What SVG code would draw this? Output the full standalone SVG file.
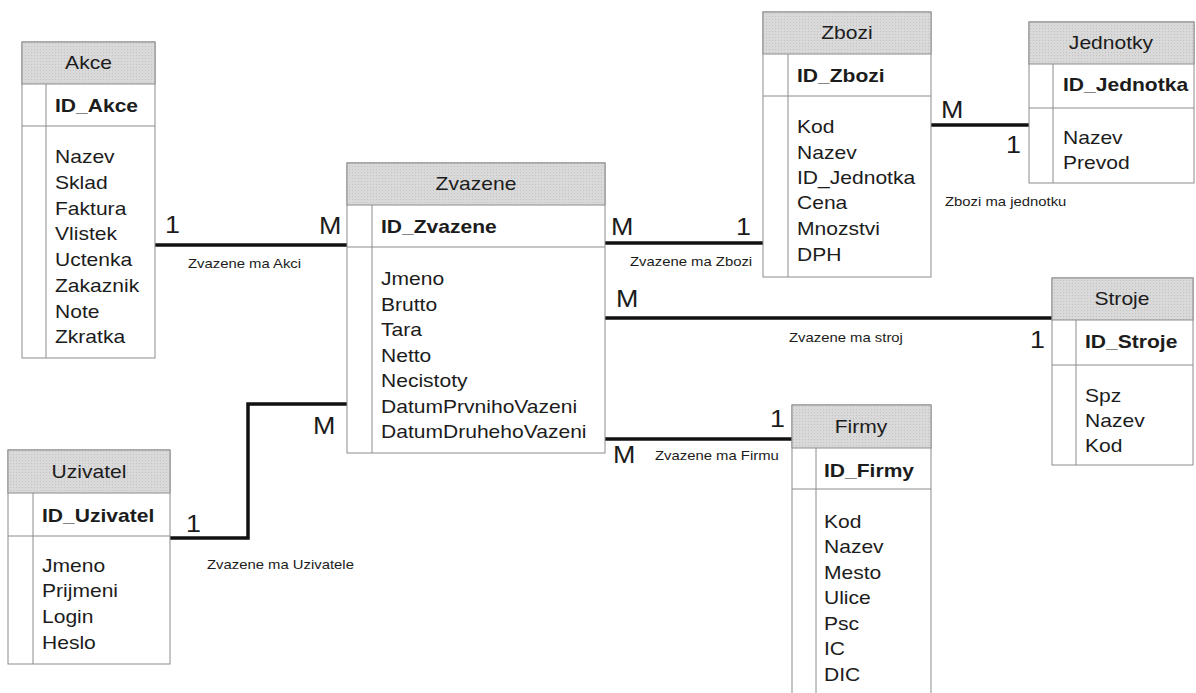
<svg xmlns="http://www.w3.org/2000/svg" width="1196" height="693" viewBox="0 0 1196 693">
<defs>
<pattern id="dots" width="3" height="3" patternUnits="userSpaceOnUse">
<rect width="3" height="3" fill="#d9d9d9"/>
<rect x="1" y="1" width="1" height="1" fill="#c2c2c2"/>
</pattern>
<style>
.box{fill:#fff;stroke:#8c8c8c;stroke-width:1}
.hd{fill:url(#dots);stroke:#8c8c8c;stroke-width:1}
.ln{stroke:#8c8c8c;stroke-width:1;fill:none}
text{font-family:"Liberation Sans",Arial,sans-serif;fill:#1c1c1c;transform-box:fill-box;transform-origin:0 0;transform:scaleX(1.17)}
.t{font-size:18px}
.h{font-size:18px;text-anchor:middle;transform-origin:50% 0}
.k{font-size:18px;font-weight:bold}
.c{font-size:24px;transform:scaleX(1.12)}
.l{font-size:12.7px}
.con{stroke:#111;stroke-width:3.5;fill:none}
</style>
</defs>
<rect width="1196" height="693" fill="#fff"/>

<g id="connectors">
<path class="con" d="M155,245H347"/>
<path class="con" d="M605,243H763"/>
<path class="con" d="M931,125H1029"/>
<path class="con" d="M605,318H1052"/>
<path class="con" d="M605,439H792"/>
<path class="con" d="M170,538H248V404H347"/>
<text class="c" x="165" y="233">1</text>
<text class="c" x="319" y="234">M</text>
<text class="l" x="188" y="268">Zvazene ma Akci</text>
<text class="c" x="611" y="235">M</text>
<text class="c" x="736" y="235">1</text>
<text class="l" x="630" y="266">Zvazene ma Zbozi</text>
<text class="c" x="941" y="118">M</text>
<text class="c" x="1006" y="153">1</text>
<text class="l" x="945" y="206">Zbozi ma jednotku</text>
<text class="c" x="616" y="307">M</text>
<text class="c" x="1030" y="348">1</text>
<text class="l" x="789" y="342">Zvazene ma stroj</text>
<text class="c" x="770" y="427">1</text>
<text class="c" x="613" y="463">M</text>
<text class="l" x="655" y="460">Zvazene ma Firmu</text>
<text class="c" x="186" y="532">1</text>
<text class="c" x="313" y="434">M</text>
<text class="l" x="207" y="569">Zvazene ma Uzivatele</text>
</g>

<g id="akce">
<rect class="box" x="22" y="42" width="133" height="316"/>
<rect class="hd" x="22" y="42" width="133" height="42"/>
<path class="ln" d="M22,126H155M46,84V358"/>
<text class="h" x="88.5" y="69">Akce</text>
<text class="k" x="55" y="112">ID_Akce</text>
<text class="t" x="55" y="163">Nazev</text>
<text class="t" x="55" y="189">Sklad</text>
<text class="t" x="55" y="215">Faktura</text>
<text class="t" x="55" y="240">Vlistek</text>
<text class="t" x="55" y="266">Uctenka</text>
<text class="t" x="55" y="292">Zakaznik</text>
<text class="t" x="55" y="318">Note</text>
<text class="t" x="55" y="343">Zkratka</text>
</g>

<g id="zvazene">
<rect class="box" x="347" y="163" width="258" height="290"/>
<rect class="hd" x="347" y="163" width="258" height="42"/>
<path class="ln" d="M347,247H605M372,205V453"/>
<text class="h" x="476" y="190">Zvazene</text>
<text class="k" x="381" y="233">ID_Zvazene</text>
<text class="t" x="381" y="285">Jmeno</text>
<text class="t" x="381" y="311">Brutto</text>
<text class="t" x="381" y="336">Tara</text>
<text class="t" x="381" y="362">Netto</text>
<text class="t" x="381" y="387">Necistoty</text>
<text class="t" x="381" y="413">DatumPrvnihoVazeni</text>
<text class="t" x="381" y="438">DatumDruhehoVazeni</text>
</g>

<g id="zbozi">
<rect class="box" x="763" y="12" width="168" height="265"/>
<rect class="hd" x="763" y="12" width="168" height="42"/>
<path class="ln" d="M763,96H931M788,54V277"/>
<text class="h" x="847" y="39">Zbozi</text>
<text class="k" x="797" y="82">ID_Zbozi</text>
<text class="t" x="797" y="133">Kod</text>
<text class="t" x="797" y="159">Nazev</text>
<text class="t" x="797" y="184">ID_Jednotka</text>
<text class="t" x="797" y="209">Cena</text>
<text class="t" x="797" y="235">Mnozstvi</text>
<text class="t" x="797" y="261">DPH</text>
</g>

<g id="jednotky">
<rect class="box" x="1029" y="22" width="165" height="161"/>
<rect class="hd" x="1029" y="22" width="165" height="42"/>
<path class="ln" d="M1029,108H1194M1053,64V183"/>
<text class="h" x="1111" y="49">Jednotky</text>
<text class="k" x="1063" y="91">ID_Jednotka</text>
<text class="t" x="1063" y="144">Nazev</text>
<text class="t" x="1063" y="169">Prevod</text>
</g>

<g id="stroje">
<rect class="box" x="1052" y="278" width="141" height="187"/>
<rect class="hd" x="1052" y="278" width="141" height="42"/>
<path class="ln" d="M1052,365H1193M1076,320V465"/>
<text class="h" x="1122" y="305">Stroje</text>
<text class="k" x="1085" y="348">ID_Stroje</text>
<text class="t" x="1085" y="402">Spz</text>
<text class="t" x="1085" y="427">Nazev</text>
<text class="t" x="1085" y="452">Kod</text>
</g>

<g id="firmy">
<rect class="box" x="792" y="405" width="139" height="300"/>
<rect class="hd" x="792" y="405" width="139" height="43"/>
<path class="ln" d="M792,489H931M816,448V705"/>
<text class="h" x="861" y="433">Firmy</text>
<text class="k" x="824" y="477">ID_Firmy</text>
<text class="t" x="824" y="528">Kod</text>
<text class="t" x="824" y="553">Nazev</text>
<text class="t" x="824" y="579">Mesto</text>
<text class="t" x="824" y="604">Ulice</text>
<text class="t" x="824" y="630">Psc</text>
<text class="t" x="824" y="655">IC</text>
<text class="t" x="824" y="681">DIC</text>
</g>

<g id="uzivatel">
<rect class="box" x="8" y="450" width="162" height="214"/>
<rect class="hd" x="8" y="450" width="162" height="43"/>
<path class="ln" d="M8,536H170M33,493V664"/>
<text class="h" x="89" y="478">Uzivatel</text>
<text class="k" x="42" y="522">ID_Uzivatel</text>
<text class="t" x="42" y="572">Jmeno</text>
<text class="t" x="42" y="597">Prijmeni</text>
<text class="t" x="42" y="623">Login</text>
<text class="t" x="42" y="649">Heslo</text>
</g>
</svg>
